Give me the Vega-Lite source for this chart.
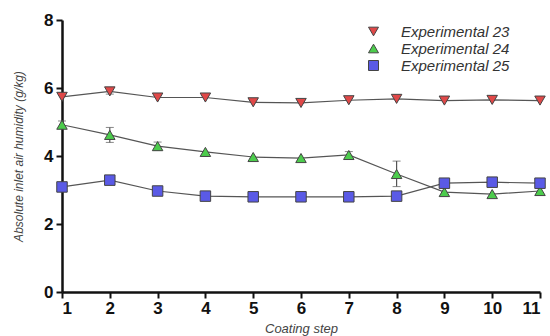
{
  "$schema": "https://vega.github.io/schema/vega-lite/v6.json",
  "width": 478,
  "height": 272,
  "autosize": "none",
  "padding": {"left": 62, "top": 20, "right": 10, "bottom": 44},
  "background": "white",
  "datasets": {
    "pts": [
      {"step": 1, "series": "Experimental 23", "v": 5.74},
      {"step": 2, "series": "Experimental 23", "v": 5.9},
      {"step": 3, "series": "Experimental 23", "v": 5.72},
      {"step": 4, "series": "Experimental 23", "v": 5.72},
      {"step": 5, "series": "Experimental 23", "v": 5.58},
      {"step": 6, "series": "Experimental 23", "v": 5.56},
      {"step": 7, "series": "Experimental 23", "v": 5.64},
      {"step": 8, "series": "Experimental 23", "v": 5.68},
      {"step": 9, "series": "Experimental 23", "v": 5.63},
      {"step": 10, "series": "Experimental 23", "v": 5.65},
      {"step": 11, "series": "Experimental 23", "v": 5.63},
      {"step": 1, "series": "Experimental 24", "v": 4.92},
      {"step": 2, "series": "Experimental 24", "v": 4.62},
      {"step": 3, "series": "Experimental 24", "v": 4.29},
      {"step": 4, "series": "Experimental 24", "v": 4.12},
      {"step": 5, "series": "Experimental 24", "v": 3.97},
      {"step": 6, "series": "Experimental 24", "v": 3.94},
      {"step": 7, "series": "Experimental 24", "v": 4.03},
      {"step": 8, "series": "Experimental 24", "v": 3.47},
      {"step": 9, "series": "Experimental 24", "v": 2.94},
      {"step": 10, "series": "Experimental 24", "v": 2.88},
      {"step": 11, "series": "Experimental 24", "v": 2.97},
      {"step": 1, "series": "Experimental 25", "v": 3.09},
      {"step": 2, "series": "Experimental 25", "v": 3.29},
      {"step": 3, "series": "Experimental 25", "v": 2.97},
      {"step": 4, "series": "Experimental 25", "v": 2.82},
      {"step": 5, "series": "Experimental 25", "v": 2.8},
      {"step": 6, "series": "Experimental 25", "v": 2.8},
      {"step": 7, "series": "Experimental 25", "v": 2.8},
      {"step": 8, "series": "Experimental 25", "v": 2.82},
      {"step": 9, "series": "Experimental 25", "v": 3.2},
      {"step": 10, "series": "Experimental 25", "v": 3.23},
      {"step": 11, "series": "Experimental 25", "v": 3.2}
    ],
    "err": [
      {"step": 2, "series": "Experimental 23", "lo": 5.82, "hi": 5.98},
      {"step": 1, "series": "Experimental 24", "lo": 4.82, "hi": 5.03},
      {"step": 2, "series": "Experimental 24", "lo": 4.4, "hi": 4.84},
      {"step": 3, "series": "Experimental 24", "lo": 4.17, "hi": 4.41},
      {"step": 7, "series": "Experimental 24", "lo": 3.93, "hi": 4.13},
      {"step": 8, "series": "Experimental 24", "lo": 3.1, "hi": 3.85}
    ]
  },
  "config": {
    "view": {"stroke": null},
    "font": "Liberation Sans"
  },
  "encoding": {
    "x": {
      "field": "step", "type": "quantitative",
      "scale": {"domain": [1, 11], "nice": false, "zero": false},
      "axis": {
        "values": [1,2,3,4,5,6,7,8,9,10,11], "format": "d",
        "title": "Coating step", "titleFont": "Liberation Sans", "titleFontStyle": "italic",
        "titleFontWeight": "normal", "titleFontSize": 13, "titleColor": "#444", "titlePadding": 6,
        "labelFont": "Liberation Sans", "labelFontWeight": "bold", "labelFontSize": 17, "labelColor": "#111",
        "domainColor": "#111", "domainWidth": 2.5, "tickColor": "#111", "tickWidth": 2, "tickSize": 6,
        "grid": false, "labelPadding": 2
      }
    },
    "y": {
      "field": "v", "type": "quantitative",
      "scale": {"domain": [0, 8], "nice": false},
      "axis": {
        "values": [0,2,4,6,8],
        "title": "Absolute inlet air humidity (g/kg)", "titleFont": "Liberation Sans", "titleFontStyle": "italic",
        "titleFontWeight": "normal", "titleFontSize": 12, "titleColor": "#444", "titlePadding": 18,
        "labelFont": "Liberation Sans", "labelFontWeight": "bold", "labelFontSize": 17, "labelColor": "#111",
        "domainColor": "#111", "domainWidth": 2.5, "tickColor": "#111", "tickWidth": 2, "tickSize": 6,
        "grid": false, "labelPadding": 3
      }
    }
  },
  "layer": [
    {
      "data": {"name": "err"},
      "mark": {"type": "errorbar", "ticks": {"size": 8, "color": "#555", "strokeWidth": 1.2}, "rule": {"color": "#555", "strokeWidth": 1.2}},
      "encoding": {
        "y": {"field": "lo", "type": "quantitative"},
        "y2": {"field": "hi"}
      }
    },
    {
      "data": {"name": "pts"},
      "mark": {"type": "line", "color": "#555", "strokeWidth": 1.2},
      "encoding": {"detail": {"field": "series"}}
    },
    {
      "data": {"name": "pts"},
      "mark": {"type": "point", "filled": true, "size": 110, "strokeWidth": 1, "opacity": 1},
      "encoding": {
        "shape": {
          "field": "series", "type": "nominal",
          "scale": {"domain": ["Experimental 23", "Experimental 24", "Experimental 25"], "range": ["triangle-down", "triangle-up", "square"]},
          "legend": {
            "orient": "none", "legendX": 304, "legendY": 4, "title": null,
            "symbolSize": 100, "symbolStrokeWidth": 1,
            "labelFont": "Liberation Sans", "labelFontStyle": "italic", "labelFontSize": 15, "labelColor": "#333",
            "labelOffset": 20, "rowPadding": 1, "symbolOpacity": 1
          }
        },
        "fill": {
          "field": "series", "type": "nominal",
          "scale": {"domain": ["Experimental 23", "Experimental 24", "Experimental 25"], "range": ["#e04848", "#4ccc4c", "#5a5ae6"]},
          "legend": {
            "orient": "none", "legendX": 304, "legendY": 4, "title": null,
            "symbolSize": 100, "symbolStrokeWidth": 1,
            "labelFont": "Liberation Sans", "labelFontStyle": "italic", "labelFontSize": 15, "labelColor": "#333",
            "labelOffset": 20, "rowPadding": 1, "symbolOpacity": 1
          }
        },
        "stroke": {
          "field": "series", "type": "nominal",
          "scale": {"domain": ["Experimental 23", "Experimental 24", "Experimental 25"], "range": ["#444444", "#444444", "#444444"]},
          "legend": {
            "orient": "none", "legendX": 304, "legendY": 4, "title": null,
            "symbolSize": 100, "symbolStrokeWidth": 1,
            "labelFont": "Liberation Sans", "labelFontStyle": "italic", "labelFontSize": 15, "labelColor": "#333",
            "labelOffset": 20, "rowPadding": 1, "symbolOpacity": 1
          }
        }
      }
    }
  ]
}
